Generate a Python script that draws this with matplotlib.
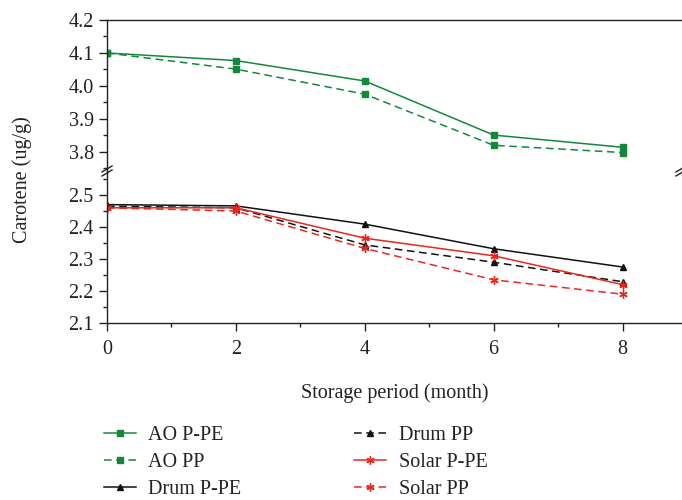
import numpy as np
import matplotlib
matplotlib.use("Agg")
import matplotlib.pyplot as plt
from matplotlib.lines import Line2D

plt.rcParams['font.family'] = ['Liberation Serif', 'DejaVu Serif']

# storage months
months = [0, 2, 4, 6, 8]

# carotene (ug/g) per treatment
aoPPE = [4.100, 4.077, 4.015, 3.851, 3.814]
aoPP = [4.100, 4.051, 3.975, 3.820, 3.798]
drumPPE = [2.470, 2.466, 2.409, 2.332, 2.275]
drumPP = [2.465, 2.460, 2.344, 2.290, 2.229]
solarPPE = [2.460, 2.460, 2.365, 2.310, 2.220]
solarPP = [2.460, 2.450, 2.333, 2.235, 2.190]

topTicks = [3.8, 3.9, 4.0, 4.1, 4.2]
bottomTicks = [2.1, 2.2, 2.3, 2.4, 2.5]

green = "#13883a"
red = "#e8281e"
black = "#111111"
star = (6, 2, 0)

W, H = 682, 500
fig = plt.figure(figsize=(W / 100, H / 100), dpi=100)

left = 107 / W
right = 687 / W
axTop = fig.add_axes([left, 1 - 171 / H, right - left, (171 - 20) / H])
axBot = fig.add_axes([left, 1 - 323 / H, right - left, (323 - 171) / H])

lineKw = dict(linewidth=1.1, markersize=5)
axTop.plot(months, aoPPE, color=green, marker="s", linestyle="-", label="AO P-PE", **lineKw)
axTop.plot(months, aoPP, color=green, marker="s", linestyle=(0, (5, 3)), label="AO PP", **lineKw)
axBot.plot(months, drumPPE, color=black, marker="^", linestyle="-", label="Drum P-PE", **lineKw)
axBot.plot(months, drumPP, color=black, marker="^", linestyle=(0, (5, 3)), label="Drum PP", **lineKw)
axBot.plot(months, solarPPE, color=red, marker=star, linestyle="-", label="Solar P-PE",
           linewidth=1.1, markersize=6)
axBot.plot(months, solarPP, color=red, marker=star, linestyle=(0, (5, 3)), label="Solar PP",
           linewidth=1.1, markersize=6)

for ax in (axTop, axBot):
    ax.set_xlim(0, 9)
    ax.set_facecolor("none")
    for s in ax.spines.values():
        s.set_linewidth(1.0)
        s.set_color("#222222")
    ax.spines['right'].set_visible(False)
    ax.tick_params(axis='both', which='major', direction='out', length=6, width=1.0,
                   labelsize=14.5, colors="#222222")
    ax.tick_params(axis='both', which='minor', direction='out', length=3, width=1.0,
                   colors="#222222")

axTop.set_ylim(3.742, 4.2)
axTop.set_yticks(topTicks)
axTop.set_yticks(np.arange(3.75, 4.2, 0.1), minor=True)
axTop.set_yticklabels([f"{t:.1f}" for t in topTicks])
axTop.spines['bottom'].set_visible(False)
axTop.tick_params(axis='x', which='both', bottom=False, labelbottom=False)

axBot.set_ylim(2.1, 2.575)
axBot.set_yticks(bottomTicks)
axBot.set_yticks(np.arange(2.15, 2.56, 0.1), minor=True)
axBot.set_yticklabels([f"{t:.1f}" for t in bottomTicks])
axBot.spines['top'].set_visible(False)
axBot.set_xticks([0, 2, 4, 6, 8])
axBot.set_xticks([1, 3, 5, 7], minor=True)
axBot.tick_params(axis='x', pad=6)

# axis break marks
for xp in (107, 681):
    for dy in (-2, 2):
        y0 = 171 + dy
        fig.add_artist(Line2D([(xp - 5) / W, (xp + 5) / W],
                              [1 - (y0 + 3) / H, 1 - (y0 - 3) / H],
                              color="#222222", linewidth=1.0))

fig.text(395 / W, 1 - 393 / H, "Storage period (month)", ha="center", va="center",
         fontsize=14.5, color="#222222")
fig.text(22 / W, 1 - 180 / H, "Carotene (ug/g)", ha="center", va="center",
         rotation=90, fontsize=14.5, color="#222222")

handles = axTop.get_lines() + axBot.get_lines()
labels = [h.get_label() for h in handles]
fig.legend(handles, labels, ncol=2, loc="upper left",
           bbox_to_anchor=(104 / W, 1 - 426 / H), frameon=False, fontsize=14.5,
           handlelength=1.6, handletextpad=0.6, columnspacing=5.6,
           labelspacing=0.38, borderaxespad=0, borderpad=0, labelcolor="#222222")

fig.savefig("out.png", dpi=100)
